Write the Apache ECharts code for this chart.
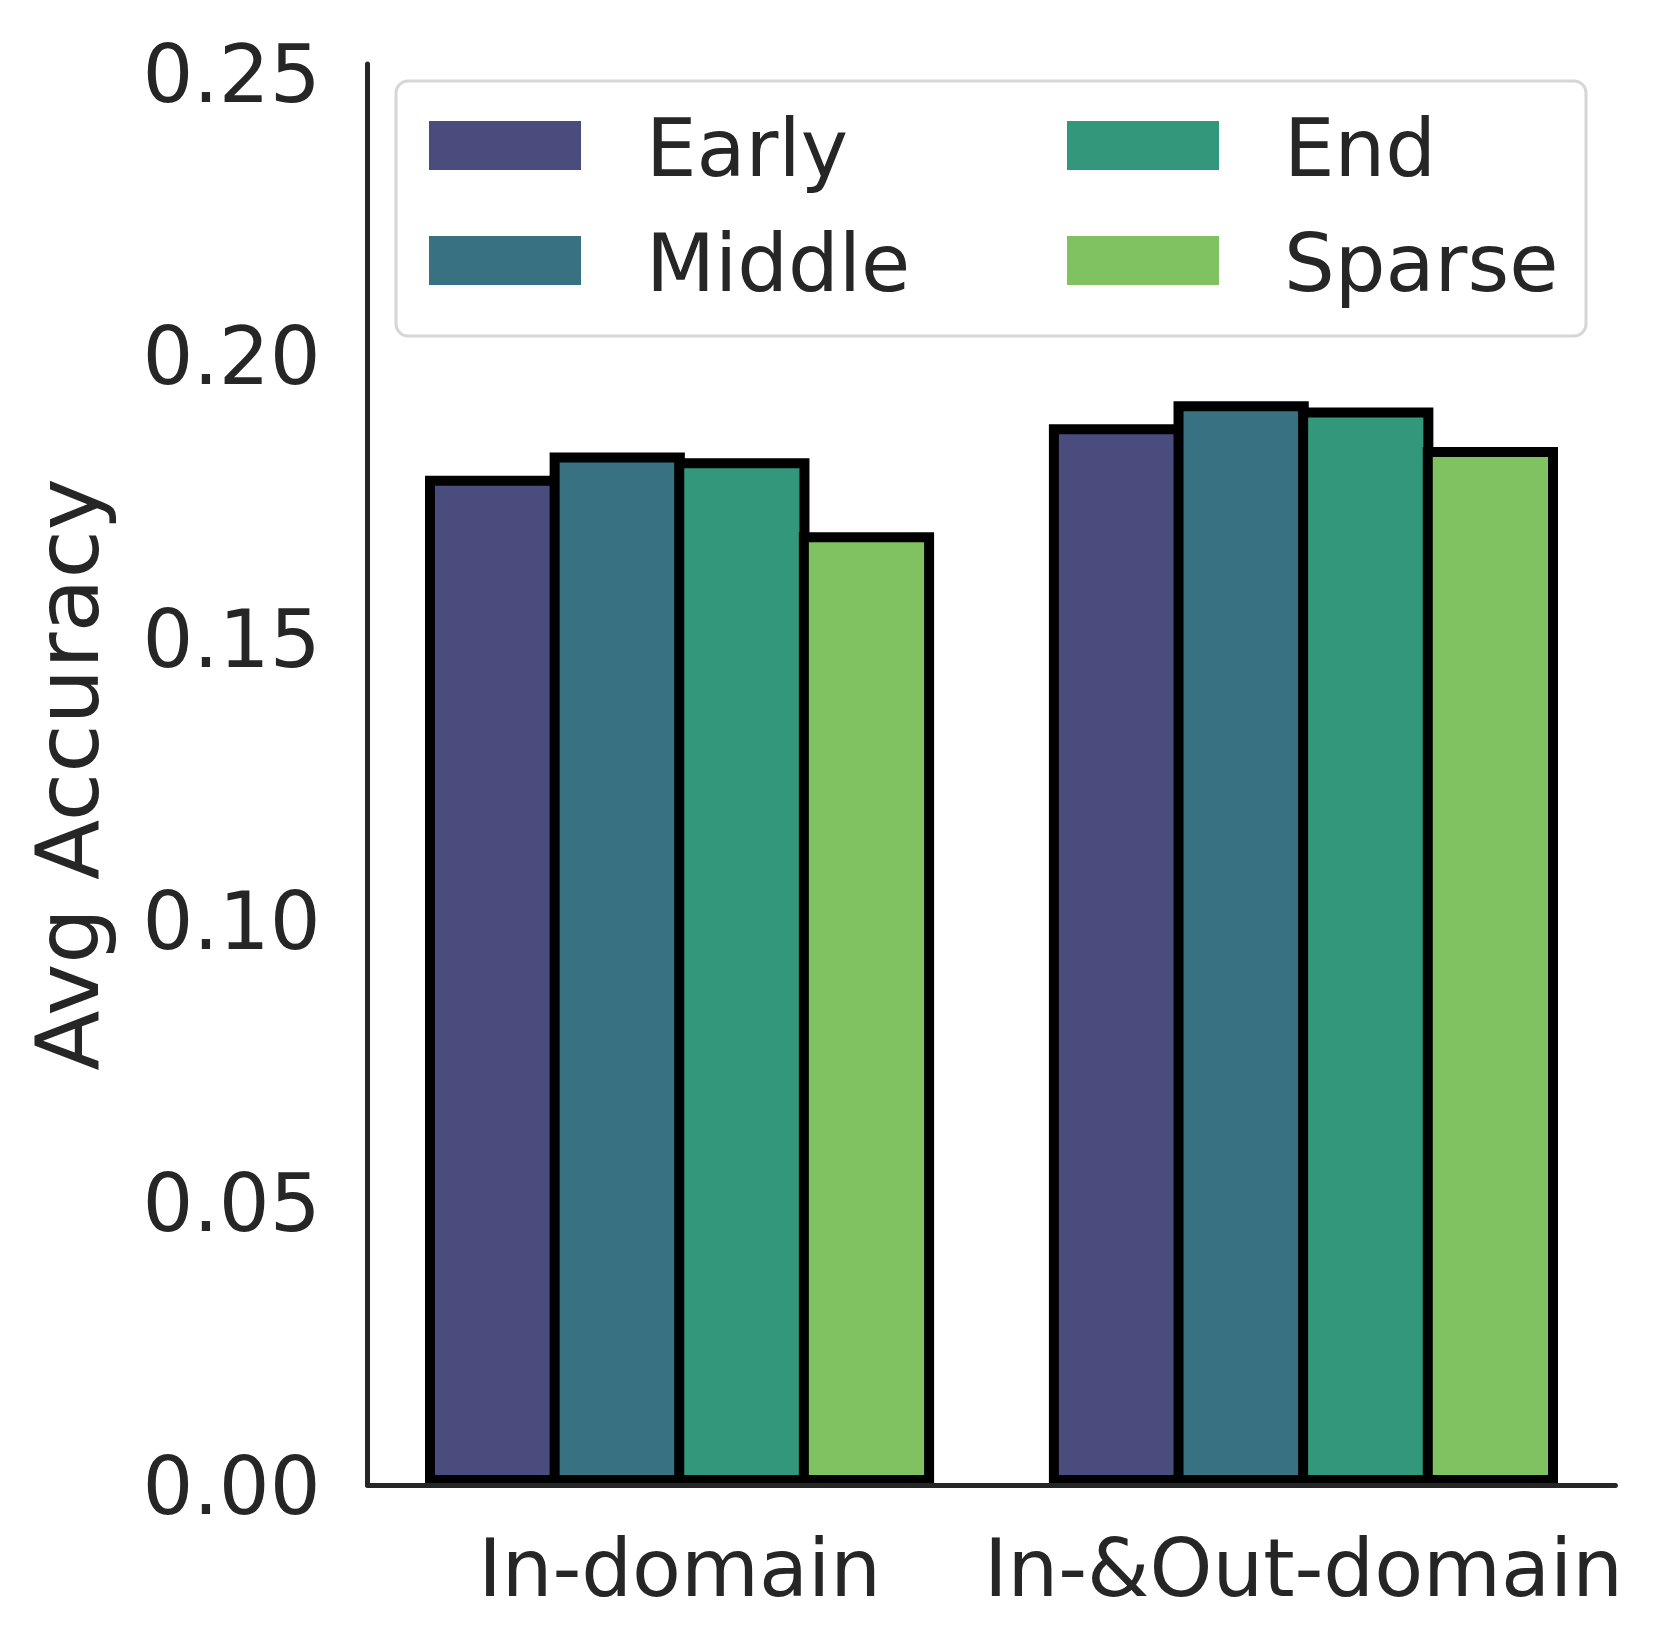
<!DOCTYPE html>
<html>
<head>
<meta charset="utf-8">
<script src="https://cdn.jsdelivr.net/npm/echarts@6/dist/echarts.min.js"></script>
<style>
html,body{margin:0;padding:0;background:#fff;}
#chart{width:1661px;height:1648px;}
</style>
</head>
<body>
<div id="chart"></div>
<script>
const categories = ['In-domain', 'In-&Out-domain'];
const seriesNames = ['Early', 'Middle', 'End', 'Sparse'];
const earlyValues = [0.1787, 0.1878];
const middleValues = [0.1828, 0.1919];
const endValues = [0.1818, 0.1908];
const sparseValues = [0.1687, 0.1838];
const yMin = 0;
const yMax = 0.2516;
const yStep = 0.05;

const colors = ['#4a4c7e', '#377182', '#33977c', '#80c161'];
const valueSets = [earlyValues, middleValues, endValues, sparseValues];
const FONT = 'DejaVu Sans';
const TXT = '#262626';

const chart = echarts.init(document.getElementById('chart'), null, {renderer: 'canvas'});

const series = seriesNames.map((name, i) => ({
  name: name,
  type: 'bar',
  data: valueSets[i],
  barGap: '-7.84%',
  barCategoryGap: '18.4%',
  itemStyle: { color: colors[i], borderColor: '#000', borderWidth: 10 },
  emphasis: { disabled: true },
  z: 2
}));

const legendCommon = {
  orient: 'vertical',
  top: 115,
  itemWidth: 152,
  itemHeight: 49,
  itemGap: 35,
  icon: 'rect',
  padding: 0,
  selectedMode: false,
  itemStyle: { borderWidth: 0 },
  formatter: name => '{t|' + name + '}',
  textStyle: {
    fontFamily: FONT, fontSize: 80, color: TXT, padding: [0, 0, 0, 60],
    rich: { t: { fontFamily: FONT, fontSize: 80, color: TXT, padding: [19, 0, 0, 0] } }
  }
};

chart.setOption({
  animation: false,
  backgroundColor: '#fff',
  color: colors,
  grid: { left: 367.6, right: 45.6, top: 64, bottom: 163, containLabel: false },
  legend: [
    Object.assign({}, legendCommon, { left: 429, data: ['Early', 'Middle'] }),
    Object.assign({}, legendCommon, { left: 1067, data: ['End', 'Sparse'] })
  ],
  graphic: [{
    type: 'rect',
    z: 0,
    shape: { x: 396, y: 81, width: 1190, height: 255, r: 12 },
    style: { fill: '#fff', stroke: '#d6d6d6', lineWidth: 3 }
  }],
  xAxis: {
    type: 'category',
    data: categories,
    axisTick: { show: false },
    axisLine: { lineStyle: { color: TXT, width: 5 } },
    axisLabel: { fontFamily: FONT, fontSize: 80, color: TXT, margin: 50, interval: 0, hideOverlap: false },
    splitLine: { show: false },
    z: 5
  },
  yAxis: {
    type: 'value',
    min: yMin,
    max: yMax,
    interval: yStep,
    name: 'Avg Accuracy',
    nameLocation: 'middle',
    nameRotate: 90,
    nameGap: 248,
    nameTextStyle: { fontFamily: FONT, fontSize: 88, color: TXT },
    axisLine: { show: true, lineStyle: { color: TXT, width: 5 } },
    axisTick: { show: false },
    splitLine: { show: false },
    axisLabel: {
      fontFamily: FONT, fontSize: 80, color: TXT, margin: 47,
      verticalAlign: 'top', lineHeight: 16,
      showMaxLabel: false,
      formatter: v => (Math.abs(v / yStep - Math.round(v / yStep)) < 1e-6 ? v.toFixed(2) : '')
    },
    z: 5
  },
  series: series
});
</script>
</body>
</html>
